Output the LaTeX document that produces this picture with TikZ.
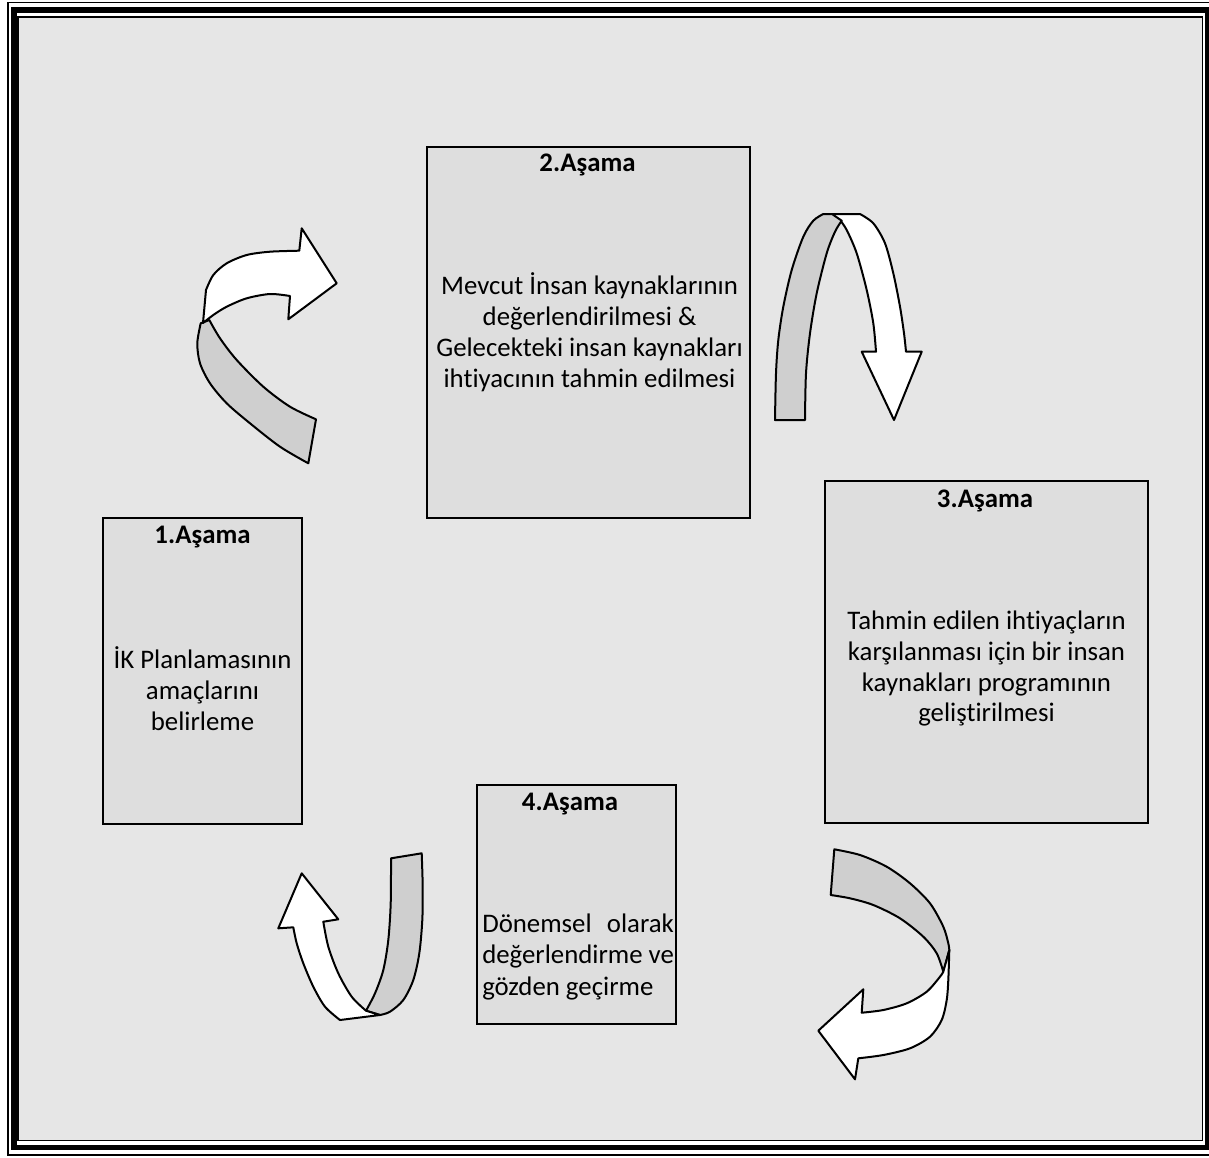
\documentclass[tikz,border=0pt]{standalone}
\usepackage{fontspec}
\setmainfont{Carlito}[RawFeature={-liga;-clig;-calt;-dlig}]
\newlength\dvwidth
\newcommand\tinolig{t\kern0pt i}
\definecolor{bgin}{HTML}{E6E6E6}
\definecolor{boxfill}{HTML}{DEDEDE}
\definecolor{ribbon}{HTML}{CFCFCF}
\begin{document}
\begin{tikzpicture}[x=0.75pt,y=-0.75pt,
  stagebox/.style={draw=black,fill=boxfill,line width=1.2pt,inner sep=0pt},
  ttl/.style={anchor=base,font=\fontsize{20.1}{23.3}\selectfont\bfseries,inner sep=0pt},
  body/.style={anchor=base,font=\fontsize{20.1}{23.3}\selectfont,inner sep=0pt},
  front/.style={draw=black,fill=white,line width=1.5pt,line join=round},
  back/.style={draw=black,fill=ribbon,line width=1.5pt,line join=round}]
\useasboundingbox (0,0) rectangle (1209,1157);
\fill[white] (0,0) rectangle (1209,1157);
% frame
\fill[bgin] (18,17) rectangle (1202.5,1140.5);
\draw[line width=1.1pt] (8,2.5) rectangle (1213,1155);
\draw[line width=4.4pt] (14,10) rectangle (1207.5,1147.5);
\draw[line width=1.4pt] (18,17) rectangle (1202.5,1140.5);
% boxes
\node[stagebox,minimum width=323*0.75pt,minimum height=371*0.75pt] (s2) at (588.5,332.5) {};
\node[stagebox,minimum width=199*0.75pt,minimum height=306*0.75pt] (s1) at (202.5,671) {};
\node[stagebox,minimum width=323*0.75pt,minimum height=342*0.75pt] (s3) at (986.5,652) {};
\node[stagebox,minimum width=199*0.75pt,minimum height=239*0.75pt] (s4) at (576.5,904.5) {};
% texts
\node[ttl] (t2) at (587.5,171.5) {2.Aşama};
\node[body] (b2a) at (589.5,294) {Mevcut İnsan kaynaklarının};
\node[body] (b2b) at (589.5,325) {değerlendirilmesi \&};
\node[body] (b2c) at (589.5,356) {Gelecekteki insan kaynakları};
\node[body] (b2d) at (589.5,387) {ih\tinolig yacının tahmin edilmesi};
\node[ttl] (t1) at (202.5,543) {1.Aşama};
\node[body] (b1a) at (202.5,668) {İK Planlamasının};
\node[body] (b1b) at (202.5,699) {amaçlarını};
\node[body] (b1c) at (202.5,730) {belirleme};
\node[ttl] (t3) at (985,507) {3.Aşama};
\node[body] (b3a) at (986.5,629) {Tahmin edilen ih\tinolig yaçların};
\node[body] (b3b) at (986.5,660) {karşılanması için bir insan};
\node[body] (b3c) at (986.5,691) {kaynakları programının};
\node[body] (b3d) at (986.5,721) {geliş\tinolig rilmesi};
\node[ttl] (t4) at (570,810.5) {4.Aşama};
\node[body,anchor=base west] (b4a) at (482,932) {\settowidth{\dvwidth}{değerlendirme ve}\makebox[\dvwidth][s]{Dönemsel\hfil olarak}};
\node[body,anchor=base west] (b4b) at (482,963) {değerlendirme ve};
\node[body,anchor=base west] (b4c) at (482,995) {gözden geçirme};
% arrow A (1 -> 2)
\draw[back] (200.7,323.3) -- plot[smooth] coordinates {(200.7,323.3) (197.3,343.3) (200,363.3) (210,383.3) (226.7,403.3) (250,423.3) (280,446.7) (308.3,463.3)}
  -- (316,419.3) -- plot[smooth] coordinates {(316,419.3) (290,406.7) (263.3,386.7) (236.7,360) (220,338.3) (209.3,320)} -- cycle;
\draw[front] (206,290) -- plot[smooth] coordinates {(206,290) (213.3,275) (226.7,263.3) (246.7,255) (270,251.7) (299.3,250.7)}
  -- (301.7,228.3) -- (336.7,283.3) -- (288.3,319.3) -- (290,296)
  -- plot[smooth] coordinates {(290,296) (270,294) (246.7,298.3) (226.7,306.7) (213.3,315) (203,323)} -- cycle;
% arrow B (2 -> 3)
\draw[front] (830,214) -- (860,214) -- plot[smooth] coordinates {(860,214) (873.3,223.3) (885,243.3) (893.3,273.3) (900,306.7) (904,333.3) (906,351.7)}
  -- (921.7,351.7) -- (894,420) -- (861.7,351.7) -- (876,351.7)
  -- plot[smooth] coordinates {(876,351.7) (873.3,323.3) (866.7,290) (856.7,253.3) (846.7,230) (840,220)} -- cycle;
\draw[back] (775,420) -- plot[smooth] coordinates {(775,420) (776,373.3) (778.3,340) (783.3,306.7) (791.7,270) (803.3,236.7) (813.3,220.7) (823.3,214)}
  -- (832,214) -- plot[smooth] coordinates {(841.7,220.7) (835,231.7) (826.7,253.3) (816.7,293.3) (810,333.3) (806,373.3) (805,420)} -- cycle;
% arrow C (3 -> 4)
\draw[back] (834.3,849.3) -- plot[smooth] coordinates {(834.3,849.3) (860,855) (886.7,866.7) (910,883.3) (930,903.3) (943.3,926.7) (948.3,943.3) (949.3,950)}
  -- (943.3,971.7) -- plot[smooth] coordinates {(943.3,971.7) (936.7,953.3) (923.3,936.7) (900,918.3) (873.3,905) (850,898.3) (830.7,895)} -- cycle;
\draw[front] (949.3,950) -- plot[smooth] coordinates {(949.3,950) (948.3,980) (946.7,1000) (941.7,1020) (930,1036.7) (910,1048.3) (883.3,1055) (858.3,1058.3)}
  -- (855,1079.3) -- (818.3,1030.7) -- (863.3,989.3) -- (861.7,1012.7)
  -- plot[smooth] coordinates {(861.7,1012.7) (883.3,1010) (906.7,1003.3) (926.7,991.7) (940,976.7) (943.3,971.7)} -- cycle;
% arrow D (4 -> 1)
\draw[back] (391,858.3) -- (421.7,853.3) -- plot[smooth] coordinates {(421.7,853.3) (422.7,886.7) (422.3,920) (419.3,953.3) (413.3,980) (403.3,1000) (390,1011.7) (380,1015)}
  -- (366,1010.7) -- plot[smooth] coordinates {(366,1010.7) (375,993.3) (383.3,970) (388.3,940) (390.7,903.3) (391,858.3)} -- cycle;
\draw[front] (340,1020) -- plot[smooth] coordinates {(340,1020) (325,1006.7) (313.3,986.7) (303.3,963.3) (296.7,943.3) (293.3,927.3)}
  -- (278.3,928.3) -- (301.7,873.3) -- (338.3,919.3) -- (323.3,921.7)
  -- plot[smooth] coordinates {(323.3,921.7) (328.3,946.7) (338.3,973.3) (351.7,996.7) (366,1010.7)} -- (380,1015) -- cycle;
\end{tikzpicture}
\end{document}
